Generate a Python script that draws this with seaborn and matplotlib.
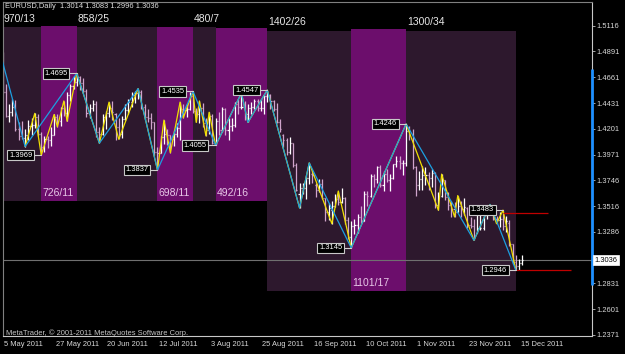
import matplotlib
matplotlib.use("Agg")
import matplotlib.pyplot as plt
import matplotlib.transforms as mtransforms
import numpy as np
import pandas as pd
import seaborn as sns

# ---------------- data ----------------
TITLE = "EURUSD,Daily  1.3014 1.3083 1.2996 1.3036"
COPYRIGHT = "MetaTrader, \u00a9 2001-2011 MetaQuotes Software Corp."

opens = [1.4830, 1.4530, 1.4320, 1.4350, 1.4400, 1.4200, 1.4140, 1.4120, 1.4150, 1.4230,
         1.4240, 1.4310, 1.4160, 1.4040, 1.4110, 1.4100, 1.4150, 1.4310, 1.4270, 1.4390,
         1.4340, 1.4500, 1.4580, 1.4620, 1.4660, 1.4610, 1.4540, 1.4340, 1.4390, 1.4420,
         1.4170, 1.4160, 1.4310, 1.4340, 1.4390, 1.4330, 1.4220, 1.4160, 1.4290, 1.4370,
         1.4440, 1.4500, 1.4520, 1.4530, 1.4400, 1.4310, 1.4300, 1.4260, 1.4000, 1.3990,
         1.4130, 1.4160, 1.4150, 1.4110, 1.4160, 1.4210, 1.4380, 1.4370, 1.4380, 1.4490,
         1.4360, 1.4330, 1.4390, 1.4250, 1.4190, 1.4320, 1.4080, 1.4270, 1.4190, 1.4380,
         1.4190, 1.4230, 1.4240, 1.4420, 1.4400, 1.4400, 1.4330, 1.4390, 1.4400, 1.4450,
         1.4390, 1.4390, 1.4490, 1.4500, 1.4450, 1.4380, 1.4260, 1.4150, 1.4100, 1.4000,
         1.4080, 1.3880, 1.3620, 1.3680, 1.3680, 1.3770, 1.3800, 1.3700, 1.3660, 1.3710,
         1.3590, 1.3460, 1.3480, 1.3520, 1.3580, 1.3550, 1.3590, 1.3390, 1.3240, 1.3340,
         1.3350, 1.3420, 1.3380, 1.3620, 1.3610, 1.3780, 1.3760, 1.3860, 1.3700, 1.3800,
         1.3750, 1.3770, 1.3890, 1.3920, 1.3900, 1.3900, 1.4180, 1.4150, 1.3860, 1.3700,
         1.3760, 1.3790, 1.3790, 1.3770, 1.3810, 1.3530, 1.3610, 1.3750, 1.3600, 1.3530,
         1.3490, 1.3460, 1.3520, 1.3490, 1.3500, 1.3350, 1.3340, 1.3280, 1.3320, 1.3320,
         1.3440, 1.3460, 1.3450, 1.3400, 1.3390, 1.3400, 1.3340, 1.3370, 1.3180, 1.3020,
         1.2980, 1.3014]

highs = [1.4885, 1.4600, 1.4420, 1.4470, 1.4460, 1.4260, 1.4270, 1.4200, 1.4280, 1.4300,
         1.4340, 1.4330, 1.4170, 1.4140, 1.4140, 1.4220, 1.4330, 1.4330, 1.4400, 1.4450,
         1.4530, 1.4600, 1.4670, 1.4695, 1.4670, 1.4650, 1.4560, 1.4420, 1.4460, 1.4450,
         1.4220, 1.4330, 1.4360, 1.4440, 1.4450, 1.4340, 1.4300, 1.4320, 1.4420, 1.4470,
         1.4530, 1.4540, 1.4560, 1.4550, 1.4420, 1.4380, 1.4340, 1.4260, 1.4040, 1.4140,
         1.4280, 1.4200, 1.4150, 1.4190, 1.4250, 1.4440, 1.4420, 1.4420, 1.4530, 1.4535,
         1.4390, 1.4450, 1.4430, 1.4300, 1.4350, 1.4330, 1.4300, 1.4350, 1.4400, 1.4390,
         1.4300, 1.4300, 1.4440, 1.4470, 1.4520, 1.4450, 1.4420, 1.4440, 1.4470, 1.4470,
         1.4470, 1.4500, 1.4547, 1.4510, 1.4460, 1.4430, 1.4290, 1.4160, 1.4120, 1.4130,
         1.4080, 1.3900, 1.3720, 1.3720, 1.3790, 1.3900, 1.3840, 1.3720, 1.3760, 1.3760,
         1.3590, 1.3540, 1.3560, 1.3620, 1.3650, 1.3680, 1.3600, 1.3420, 1.3380, 1.3400,
         1.3450, 1.3520, 1.3650, 1.3650, 1.3800, 1.3800, 1.3870, 1.3880, 1.3830, 1.3850,
         1.3800, 1.3890, 1.3960, 1.3960, 1.3930, 1.4246, 1.4230, 1.4200, 1.3870, 1.3830,
         1.3870, 1.3860, 1.3820, 1.3850, 1.3820, 1.3640, 1.3800, 1.3750, 1.3640, 1.3560,
         1.3550, 1.3610, 1.3560, 1.3590, 1.3510, 1.3420, 1.3400, 1.3440, 1.3440, 1.3520,
         1.3530, 1.3530, 1.3530, 1.3430, 1.3460, 1.3480, 1.3430, 1.3390, 1.3180, 1.3080,
         1.3050, 1.3083]

lows = [1.4520, 1.4310, 1.4260, 1.4320, 1.4180, 1.4100, 1.4110, 1.4045, 1.4100, 1.4150,
        1.4210, 1.4140, 1.3969, 1.4000, 1.4030, 1.4050, 1.4150, 1.4220, 1.4230, 1.4320,
        1.4270, 1.4450, 1.4560, 1.4580, 1.4550, 1.4520, 1.4310, 1.4300, 1.4360, 1.4130,
        1.4075, 1.4150, 1.4200, 1.4310, 1.4280, 1.4100, 1.4110, 1.4120, 1.4280, 1.4330,
        1.4400, 1.4430, 1.4470, 1.4380, 1.4280, 1.4260, 1.4200, 1.3960, 1.3837, 1.3990,
        1.4070, 1.4060, 1.3990, 1.4050, 1.4130, 1.4100, 1.4300, 1.4310, 1.4370, 1.4340,
        1.4260, 1.4250, 1.4220, 1.4140, 1.4160, 1.4070, 1.4055, 1.4150, 1.4170, 1.4150,
        1.4100, 1.4180, 1.4220, 1.4330, 1.4380, 1.4280, 1.4260, 1.4330, 1.4380, 1.4360,
        1.4360, 1.4330, 1.4440, 1.4380, 1.4360, 1.4250, 1.4170, 1.4040, 1.3970, 1.3980,
        1.3860, 1.3650, 1.3500, 1.3620, 1.3580, 1.3710, 1.3720, 1.3600, 1.3640, 1.3580,
        1.3380, 1.3390, 1.3360, 1.3510, 1.3530, 1.3540, 1.3360, 1.3220, 1.3145, 1.3270,
        1.3280, 1.3370, 1.3380, 1.3520, 1.3600, 1.3690, 1.3720, 1.3690, 1.3650, 1.3730,
        1.3650, 1.3760, 1.3860, 1.3850, 1.3790, 1.3870, 1.4100, 1.3850, 1.3610, 1.3660,
        1.3660, 1.3700, 1.3660, 1.3690, 1.3500, 1.3480, 1.3600, 1.3570, 1.3480, 1.3420,
        1.3420, 1.3460, 1.3420, 1.3440, 1.3320, 1.3320, 1.3212, 1.3280, 1.3300, 1.3300,
        1.3400, 1.3450, 1.3390, 1.3360, 1.3330, 1.3300, 1.3290, 1.3160, 1.3000, 1.2946,
        1.2950, 1.2996]

closes = [1.4530, 1.4320, 1.4350, 1.4400, 1.4200, 1.4140, 1.4120, 1.4150, 1.4230, 1.4240,
          1.4310, 1.4160, 1.4040, 1.4110, 1.4100, 1.4150, 1.4310, 1.4270, 1.4390, 1.4340,
          1.4500, 1.4580, 1.4620, 1.4660, 1.4610, 1.4540, 1.4340, 1.4390, 1.4420, 1.4170,
          1.4160, 1.4310, 1.4340, 1.4390, 1.4350, 1.4220, 1.4160, 1.4290, 1.4370, 1.4440,
          1.4500, 1.4520, 1.4530, 1.4400, 1.4310, 1.4300, 1.4260, 1.4000, 1.3990, 1.4130,
          1.4160, 1.4150, 1.4110, 1.4160, 1.4210, 1.4380, 1.4370, 1.4380, 1.4490, 1.4360,
          1.4330, 1.4390, 1.4250, 1.4190, 1.4320, 1.4080, 1.4270, 1.4190, 1.4380, 1.4190,
          1.4230, 1.4240, 1.4420, 1.4400, 1.4400, 1.4330, 1.4390, 1.4400, 1.4450, 1.4390,
          1.4390, 1.4490, 1.4500, 1.4450, 1.4380, 1.4260, 1.4200, 1.4100, 1.4000, 1.4080,
          1.3880, 1.3660, 1.3680, 1.3680, 1.3770, 1.3870, 1.3790, 1.3660, 1.3710, 1.3590,
          1.3460, 1.3500, 1.3520, 1.3580, 1.3550, 1.3590, 1.3390, 1.3240, 1.3340, 1.3350,
          1.3420, 1.3380, 1.3620, 1.3610, 1.3780, 1.3760, 1.3860, 1.3700, 1.3800, 1.3750,
          1.3770, 1.3890, 1.3920, 1.3900, 1.3900, 1.4180, 1.4150, 1.3860, 1.3700, 1.3760,
          1.3790, 1.3790, 1.3770, 1.3810, 1.3530, 1.3610, 1.3750, 1.3600, 1.3530, 1.3490,
          1.3460, 1.3520, 1.3490, 1.3510, 1.3350, 1.3340, 1.3240, 1.3320, 1.3320, 1.3440,
          1.3460, 1.3450, 1.3400, 1.3390, 1.3400, 1.3340, 1.3380, 1.3180, 1.3020, 1.2980,
          1.3014, 1.3036]

x_tick_pos = [0, 16, 32, 48, 64, 80, 96, 112, 128, 144, 160]
x_tick_labels = ["5 May 2011", "27 May 2011", "20 Jun 2011", "12 Jul 2011", "3 Aug 2011",
                 "25 Aug 2011", "16 Sep 2011", "10 Oct 2011", "1 Nov 2011", "23 Nov 2011",
                 "15 Dec 2011"]
y_ticks = [1.5116, 1.4891, 1.4661, 1.4431, 1.4201, 1.3971, 1.3746, 1.3516, 1.3286,
           1.2831, 1.2601, 1.2371]
current_price = 1.3036

# big zigzag (cyan) and small zigzag (yellow): bar index, price
cyan_idx = [0, 7, 23, 30, 42, 48, 59, 66, 74, 76, 82, 92, 95, 108, 125, 146, 151, 159]
cyan_px = [1.4800, 1.4045, 1.4695, 1.4075, 1.4560, 1.3837, 1.4535, 1.4055, 1.4520,
           1.4260, 1.4547, 1.3500, 1.3900, 1.3145, 1.4246, 1.3212, 1.3530, 1.2946]
yellow_idx = [7, 10, 12, 16, 17, 19, 20, 23, 30, 33, 36, 42, 48, 50, 52, 55, 56, 59, 60,
              61, 63, 64, 66, 74, 76, 82, 92, 95, 102, 104, 108, 125, 135, 136, 140, 141,
              146, 151, 153, 155, 159]
yellow_px = [1.4045, 1.4340, 1.3969, 1.4330, 1.4220, 1.4450, 1.4270, 1.4695, 1.4075,
             1.4440, 1.4110, 1.4560, 1.3837, 1.4280, 1.3990, 1.4440, 1.4300, 1.4535,
             1.4260, 1.4450, 1.4140, 1.4350, 1.4055, 1.4520, 1.4260, 1.4547, 1.3500,
             1.3900, 1.3360, 1.3650, 1.3145, 1.4246, 1.3480, 1.3800, 1.3420, 1.3610,
             1.3212, 1.3530, 1.3360, 1.3480, 1.2946]

# labelled swing points
label_idx = [12, 23, 48, 59, 66, 82, 108, 125, 155, 159]
label_px = [1.3969, 1.4695, 1.3837, 1.4535, 1.4055, 1.4547, 1.3145, 1.4246, 1.3483, 1.2946]

# red level lines
red_start = [155, 159]
red_end = [169, 176]
red_px = [1.3455, 1.2946]

# swing zones
zone_start = [-1, 12, 23, 48, 59, 66, 82, 108, 125]
zone_end = [12, 23, 48, 59, 66, 82, 108, 125, 159]
zone_top = [1.5107, 1.5116, 1.5107, 1.5107, 1.5107, 1.5096, 1.5074, 1.5087, 1.5072]
zone_bottom = [1.3565, 1.3565, 1.3565, 1.3565, 1.3565, 1.3565, 1.2762, 1.2762, 1.2762]
zone_text = ["970/13", "726/11", "858/25", "698/11", "480/7", "492/16", "1402/26",
             "1101/17", "1300/34"]
zone_up = [False, True, False, True, False, True, False, True, False]

# right-edge range bar
range_bar = [1.4734, 1.2815]

# ---------------- styling ----------------
sns.set_style("dark", {"axes.facecolor": "black", "figure.facecolor": "black",
                       "axes.grid": False})
plt.rcParams["font.family"] = ["Liberation Sans", "DejaVu Sans"]

W, H = 625, 354
L, R, T, B = 2.5, 591.5, 2.0, 336.0
PX = 3.23     # pixels per bar
X0 = 2.3      # pixel position of bar 0
fig = plt.figure(figsize=(W / 100, H / 100), dpi=100, facecolor="black")
ax = fig.add_axes([L / W, 1 - B / H, (R - L) / W, (B - T) / H])
ax.set_facecolor("black")
ax.set_xlim((L - X0) / PX, (R - X0) / PX)
ax.set_ylim(1.23621, 1.53292)


def off(dx, dy, base=None):
    base = ax.transData if base is None else base
    return base + mtransforms.ScaledTranslation(dx / 100, dy / 100, fig.dpi_scale_trans)


DARK = "#2d182d"
BRIGHT = "#6c0e6c"
for s, e, t, b, txt, up in zip(zone_start, zone_end, zone_top, zone_bottom, zone_text, zone_up):
    ax.fill_between([s, e], [b, b], [t, t], color=BRIGHT if up else DARK, lw=0, zorder=0)
    xs = max(s, ax.get_xlim()[0])
    if up:
        ax.text(xs, b, txt, transform=off(1, 7.5), ha="left", va="center",
                fontsize=7.5, color="#e8c8e8", zorder=6)
    else:
        ax.text(xs, t, txt, transform=off(1, 8.5), ha="left", va="center",
                fontsize=7.5, color="#e6e6e6", zorder=6, clip_on=False)

# current price line
ax.axhline(current_price, color="#707070", lw=0.8, zorder=1)

# OHLC bars
idx = np.arange(len(highs))
o = np.array(opens); h = np.array(highs); lo = np.array(lows); c = np.array(closes)
bar_cols = np.where(c >= o, "#ffffff", "#d0a4cc")
ax.vlines(idx, lo, h, colors=bar_cols, lw=0.9, zorder=2)
ax.hlines(o, idx - 0.33, idx, colors=bar_cols, lw=0.9, zorder=2)
ax.hlines(c, idx, idx + 0.33, colors=bar_cols, lw=0.9, zorder=2)

# zigzags
ydf = pd.DataFrame({"i": yellow_idx, "p": yellow_px})
cdf = pd.DataFrame({"i": cyan_idx, "p": cyan_px})
sns.lineplot(data=ydf, x="i", y="p", sort=False, estimator=None, color="#f0e000",
             lw=0.9, ax=ax, zorder=3)
sns.lineplot(data=cdf, x="i", y="p", sort=False, estimator=None, color="#1c9fe0",
             lw=0.9, ax=ax, zorder=3)

# red level lines
ax.hlines(red_px, red_start, red_end, colors="#c00000", lw=0.9, zorder=3)

# labels of swing points
for i, p in zip(label_idx, label_px):
    ax.plot([i - 2.4, i], [p, p], color="#d0d0d0", lw=0.8, zorder=4)
    ax.text(i, p, f"{p:.4f}", transform=off(-9, 0), ha="right", va="center",
            fontsize=5.4, color="white", zorder=5,
            bbox=dict(boxstyle="square,pad=0.22", fc="black", ec="#c8c8c8", lw=0.8))

# right range bar
ax.plot([ax.get_xlim()[1]] * 2, range_bar, color="#1e90ff", lw=2.0, zorder=7,
        clip_on=False, solid_capstyle="butt")

# axes decorations
ax.yaxis.tick_right()
ax.set_yticks(y_ticks)
ax.set_yticklabels([f"{v:.4f}" for v in y_ticks])
ax.tick_params(axis="y", direction="out", length=2, width=0.6, color="#c0c0c0",
               labelsize=5.4, labelcolor="#d8d8d8", pad=1.5, right=True, left=False)
ax.set_xticks(x_tick_pos)
ax.set_xticklabels(x_tick_labels)
ax.tick_params(axis="x", direction="out", length=3.5, width=0.6, color="#c0c0c0",
               labelsize=5.4, labelcolor="#d8d8d8", pad=0.3)
for lab in ax.get_xticklabels():
    lab.set_horizontalalignment("left")
    lab.set_transform(lab.get_transform() + mtransforms.ScaledTranslation(
        1.5 / 100, 0, fig.dpi_scale_trans))
ax.set_xlabel("")
ax.set_ylabel("")
for side in ["top", "left"]:
    ax.spines[side].set_color("#808080")
    ax.spines[side].set_linewidth(0.8)
for side in ["right", "bottom"]:
    ax.spines[side].set_color("#c8c8c8")
    ax.spines[side].set_linewidth(0.8)
    ax.spines[side].set_linestyle((0, (1, 1)))

# current price marker on the scale
ax.text(1.0, current_price, f"{current_price:.4f}",
        transform=off(3, 0, mtransforms.blended_transform_factory(ax.transAxes, ax.transData)),
        ha="left", va="center", fontsize=5.4, color="black", zorder=8, clip_on=False,
        bbox=dict(boxstyle="square,pad=0.2", fc="white", ec="white", lw=0.5))

fig.text(5 / W, 1 - 7 / H, TITLE, ha="left", va="center", fontsize=5.4, color="#e0e0e0")
ax.text(4 / (R - L), (B - 333) / (B - T), COPYRIGHT, transform=ax.transAxes,
        ha="left", va="center", fontsize=5.4, color="#c8c8c8", zorder=6)

fig.savefig("out.png", dpi=100, facecolor="black")
